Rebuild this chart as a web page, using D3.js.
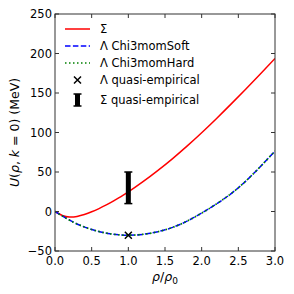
<!DOCTYPE html>
<html>
<head>
<meta charset="utf-8">
<script src="https://cdn.jsdelivr.net/npm/d3@7"></script>
<style>
	body { margin: 0; background: #fff; }
	text { font-family: 'DejaVu Sans', sans-serif; }
</style>
</head>
<body>
<div id="chart"></div>
<script>
// density grid and potentials (MeV)
const rhoSigma = [0, 0.1, 0.2, 0.3, 0.4, 0.5, 0.6, 0.7, 0.8, 0.9, 1.0, 1.2, 1.4, 1.6, 1.8, 2.0, 2.2, 2.4, 2.6, 2.8, 3.0];
const uSigma = [0, -5, -7, -6.2, -3.8, -0.4, 3.7, 8.3, 13.4, 18.9, 24.7, 37.7, 51.7, 66.7, 82.7, 99.7, 117.5, 135.9, 154.8, 174.1, 193.7];

const rhoLambda = [0, 0.25, 0.5, 0.75, 1.0, 1.25, 1.5, 1.75, 2.0, 2.25, 2.5, 2.75, 3.0];
const uLambdaSoft = [0, -13.5, -22.8, -28.2, -30, -28.3, -23.2, -14.5, -2, 12.5, 30, 52, 76.5];
const uLambdaHard = [0, -13.5, -22.8, -28.2, -30, -28.3, -23.2, -14.5, -2, 12.5, 30, 52, 76.5];

const lambdaEmp = {rho: 1.0, u: -30};
const sigmaEmp = {rho: 1.0, lo: 10, hi: 50};

const xTicks = [0, 0.5, 1.0, 1.5, 2.0, 2.5, 3.0];
const yTicks = [-50, 0, 50, 100, 150, 200, 250];

const legendLabels = ['Σ', 'Λ Chi3momSoft', 'Λ Chi3momHard', 'Λ quasi-empirical', 'Σ quasi-empirical'];

const W = 294;
const H = 294;
const margin = {top: 14, right: 19, bottom: 43, left: 55};
const iw = W - margin.left - margin.right;
const ih = H - margin.top - margin.bottom;

const svg = d3
	.select('#chart')
	.append('svg')
	.attr('width', W)
	.attr('height', H);

const x = d3.scaleLinear().domain([0, 3]).range([0, iw]);
const y = d3.scaleLinear().domain([-50, 250]).range([ih, 0]);

const g = svg.append('g').attr('transform', `translate(${margin.left},${margin.top})`);

const clip = svg.append('clipPath').attr('id', 'plotclip');
clip.append('rect').attr('width', iw).attr('height', ih);

const plot = g.append('g').attr('clip-path', 'url(#plotclip)');

const line = d3.line().curve(d3.curveNatural);

// Sigma potential
plot.append('path')
	.attr('d', line(rhoSigma.map((r, i) => [x(r), y(uSigma[i])])))
	.attr('fill', 'none')
	.attr('stroke', '#ff0000')
	.attr('stroke-width', 1.5);

// Lambda soft / hard
plot.append('path')
	.attr('d', line(rhoLambda.map((r, i) => [x(r), y(uLambdaSoft[i])])))
	.attr('fill', 'none')
	.attr('stroke', '#0000ff')
	.attr('stroke-width', 1.5)
	.attr('stroke-dasharray', '5.5,2.4');

plot.append('path')
	.attr('d', line(rhoLambda.map((r, i) => [x(r), y(uLambdaHard[i])])))
	.attr('fill', 'none')
	.attr('stroke', '#008000')
	.attr('stroke-width', 1.7)
	.attr('stroke-dasharray', '1.5,2.5');

// quasi-empirical markers
const cross = (cx, cy, s) => `M${cx - s},${cy - s}L${cx + s},${cy + s}M${cx - s},${cy + s}L${cx + s},${cy - s}`;

g.append('path')
	.attr('d', cross(x(lambdaEmp.rho), y(lambdaEmp.u), 3.5))
	.attr('stroke', '#000')
	.attr('stroke-width', 1.5);

const errBar = (sel, cx, y0, y1) => {
	sel.append('line')
		.attr('x1', cx).attr('x2', cx)
		.attr('y1', y0).attr('y2', y1)
		.attr('stroke', '#000')
		.attr('stroke-width', 5);
	[y0, y1].forEach(yy => {
		sel.append('line')
			.attr('x1', cx - 4).attr('x2', cx + 4)
			.attr('y1', yy).attr('y2', yy)
			.attr('stroke', '#000')
			.attr('stroke-width', 1.5);
	});
};

errBar(g, x(sigmaEmp.rho), y(sigmaEmp.lo), y(sigmaEmp.hi));

// frame and ticks
const axisColor = '#333';
g.append('rect')
	.attr('width', iw)
	.attr('height', ih)
	.attr('fill', 'none')
	.attr('stroke', axisColor)
	.attr('stroke-width', 1);

const tickLen = 4;
xTicks.forEach(t => {
	g.append('line').attr('x1', x(t)).attr('x2', x(t)).attr('y1', ih).attr('y2', ih - tickLen).attr('stroke', axisColor);
	g.append('line').attr('x1', x(t)).attr('x2', x(t)).attr('y1', 0).attr('y2', tickLen).attr('stroke', axisColor);
	g.append('text')
		.attr('x', x(t))
		.attr('y', ih + 14)
		.attr('text-anchor', 'middle')
		.attr('font-size', 11.5)
		.text(d3.format('.1f')(t));
});

yTicks.forEach(t => {
	g.append('line').attr('x1', 0).attr('x2', tickLen).attr('y1', y(t)).attr('y2', y(t)).attr('stroke', axisColor);
	g.append('line').attr('x1', iw).attr('x2', iw - tickLen).attr('y1', y(t)).attr('y2', y(t)).attr('stroke', axisColor);
	g.append('text')
		.attr('x', -3)
		.attr('y', y(t) + 4)
		.attr('text-anchor', 'end')
		.attr('font-size', 11.5)
		.text(t < 0 ? '\u2212' + Math.abs(t) : t);
});

// axis labels
const xl = svg.append('text')
	.attr('x', margin.left + iw / 2)
	.attr('y', 281)
	.attr('text-anchor', 'middle')
	.attr('font-size', 12.5);
xl.append('tspan').attr('font-style', 'italic').text('ρ');
xl.append('tspan').text('/');
xl.append('tspan').attr('font-style', 'italic').text('ρ');
xl.append('tspan').attr('font-size', 9).attr('dy', 3).text('0');

const yl = svg.append('text')
	.attr('transform', `translate(19,${margin.top + ih / 2}) rotate(-90)`)
	.attr('text-anchor', 'middle')
	.attr('font-size', 12.5);
yl.append('tspan').attr('font-style', 'italic').text('U');
yl.append('tspan').text('(');
yl.append('tspan').attr('font-style', 'italic').text('ρ');
yl.append('tspan').text(', ');
yl.append('tspan').attr('font-style', 'italic').text('k');
yl.append('tspan').text(' = 0) (MeV)');

// legend
const leg = svg.append('g');
const lx0 = 65;
const lx1 = 90;
const ly = [29, 46, 63, 80, 100];

leg.append('line').attr('x1', lx0).attr('x2', lx1).attr('y1', ly[0]).attr('y2', ly[0])
	.attr('stroke', '#ff0000').attr('stroke-width', 1.5);
leg.append('line').attr('x1', lx0).attr('x2', lx1).attr('y1', ly[1]).attr('y2', ly[1])
	.attr('stroke', '#0000ff').attr('stroke-width', 1.5).attr('stroke-dasharray', '5.5,2.4');
leg.append('line').attr('x1', lx0).attr('x2', lx1).attr('y1', ly[2]).attr('y2', ly[2])
	.attr('stroke', '#008000').attr('stroke-width', 1.7).attr('stroke-dasharray', '1.5,2.5');
leg.append('path').attr('d', cross((lx0 + lx1) / 2, ly[3], 3.5))
	.attr('stroke', '#000').attr('stroke-width', 1.5);
errBar(leg, (lx0 + lx1) / 2, ly[4] + 6, ly[4] - 6);

legendLabels.forEach((lab, i) => {
	leg.append('text')
		.attr('x', 100)
		.attr('y', ly[i] + 4)
		.attr('font-size', 11.5)
		.text(lab);
});
</script>
</body>
</html>
